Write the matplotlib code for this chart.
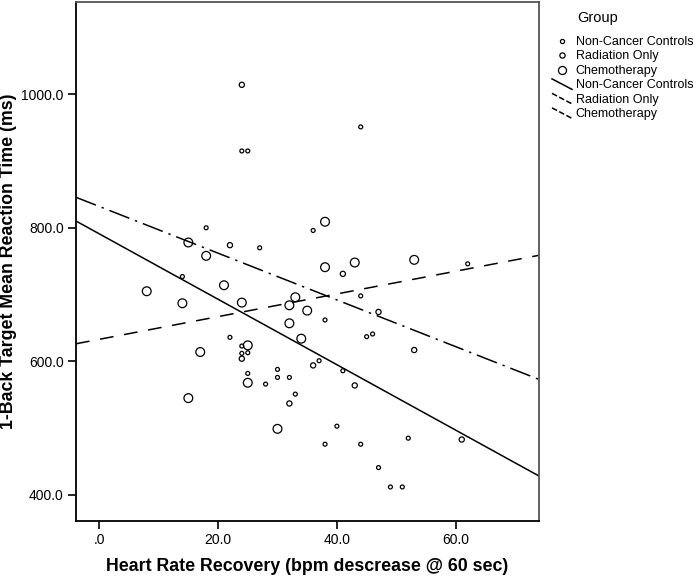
import matplotlib
matplotlib.use("Agg")
import matplotlib.pyplot as plt
from matplotlib.lines import Line2D
import numpy as np

# --- data -----------------------------------------------------------------
ncc_x = [24, 25, 18, 27, 44, 36, 14, 22, 24, 25, 24, 30, 30, 32, 25, 28, 33,
         62, 44, 38, 45, 46, 37, 41, 40, 38, 44, 52, 47, 49, 51]
ncc_y = [915, 915, 800, 770, 951, 796, 727, 636, 623, 613, 612, 588, 576, 576,
         582, 566, 551, 746, 698, 662, 637, 641, 601, 586, 503, 476, 476, 485,
         441, 412, 412]

rad_x = [24, 22, 41, 47, 53, 36, 43, 61, 24, 32]
rad_y = [1014, 774, 731, 674, 617, 594, 564, 483, 604, 537]

chemo_x = [15, 18, 38, 8, 21, 14, 24, 33, 32, 35, 32, 34, 25, 17, 25, 15, 30,
           38, 43, 53]
chemo_y = [778, 758, 809, 705, 714, 687, 688, 696, 684, 676, 657, 634, 624,
           614, 568, 545, 499, 741, 748, 752]

# fit lines: intercept at x=0 and slope (ms per bpm)
fit_intercept = [791, 832, 633]
fit_slope = [-4.9, -3.5, 1.7]

GROUPS = ["Non-Cancer Controls", "Radiation Only", "Chemotherapy"]
XTICKS = [0, 20, 40, 60]
YTICKS = [400, 600, 800, 1000]

plt.rcParams["font.family"] = ["Liberation Sans", "DejaVu Sans"]

fig = plt.figure(figsize=(7.0, 5.78), dpi=100)
ax = fig.add_axes([76 / 700, 1 - 520.7 / 578, 463 / 700, 518.7 / 578])
ax.set_xlim(-3.9, 74.0)
ax.set_ylim(361.5, 1138)

sizes = [8, 14, 40]
series = [(ncc_x, ncc_y), (rad_x, rad_y), (chemo_x, chemo_y)]
for (xs, ys), s in zip(series, sizes):
    ax.scatter(xs, ys, s=s, facecolors="none", edgecolors="black",
               linewidths=0.9, zorder=3)

styles = ["-", (0, (14, 4, 1.5, 4)), (0, (9, 7))]
xl = np.array(ax.get_xlim())
for b, m, ls in zip(fit_intercept, fit_slope, styles):
    ax.plot(xl, b + m * xl, color="black", lw=1.1, linestyle=ls, zorder=2)

ax.set_xticks(XTICKS)
ax.set_xticklabels([".0" if v == 0 else f"{v:.1f}" for v in XTICKS])
ax.set_yticks(YTICKS)
ax.set_yticklabels([f"{v:.1f}" for v in YTICKS])
ax.tick_params(direction="out", length=5.8, width=1.2, labelsize=10, pad=3)
ax.set_xlabel("Heart Rate Recovery (bpm descrease @ 60 sec)",
              fontsize=12.8, fontweight="bold", labelpad=8)
ax.set_ylabel("1-Back Target Mean Reaction Time (ms)",
              fontsize=12.8, fontweight="bold")
ax.yaxis.set_label_coords(-0.127, 0.5)
for side in ("left", "bottom"):
    ax.spines[side].set_linewidth(1.3)
    ax.spines[side].set_color("black")
for side in ("top", "right"):
    ax.spines[side].set_linewidth(1.3)
    ax.spines[side].set_color("#555555")


class DiagHandler:
    """SPSS-like short slanted line in the legend."""
    def legend_artist(self, legend, orig, fontsize, handlebox):
        x0, y0 = -handlebox.xdescent, -handlebox.ydescent
        w, h = handlebox.width, handlebox.height
        ln = Line2D([x0, x0 + w], [y0 + h * 1.1, y0 - h * 0.1],
                    color="black", lw=1.1, linestyle=orig.get_linestyle(),
                    transform=handlebox.get_transform())
        handlebox.add_artist(ln)
        return ln


msz = [3.0, 3.8, 5.8]
handles = [Line2D([], [], marker="o", ls="none", mfc="none", mec="black",
                  mew=0.9, ms=m) for m in msz]
line_handles = [Line2D([], [], color="black", linestyle=ls, lw=1.1)
                for ls in ["-", (0, (5, 1.5, 1, 1.5)), (0, (5, 20))]]
hmap = {h: DiagHandler() for h in line_handles}
fig.text(598 / 700, 1 - 18 / 578, "Group", ha="center", va="center",
         fontsize=10.5)
fig.legend(handles + line_handles, GROUPS + GROUPS,
           loc="upper left", bbox_to_anchor=(552 / 700, 1 - 36 / 578),
           frameon=False, fontsize=9, handlelength=1.6, handletextpad=0.3,
           labelspacing=0.2, borderaxespad=0, borderpad=0, handler_map=hmap)

fig.savefig("out.png", dpi=100, facecolor="white")
